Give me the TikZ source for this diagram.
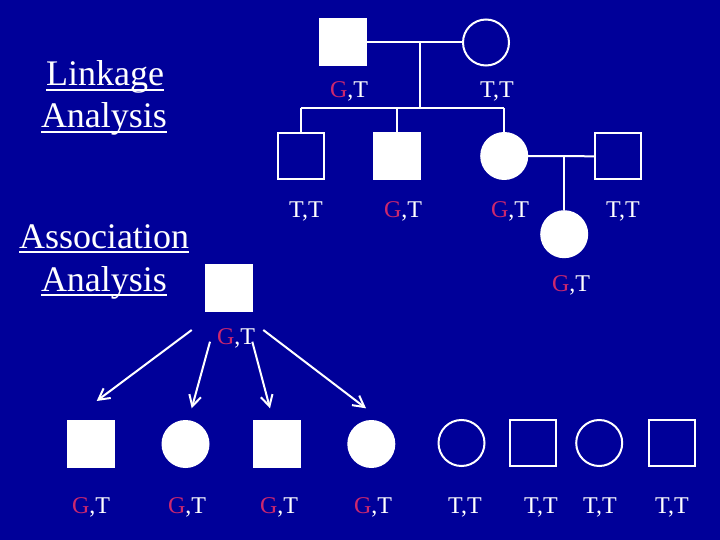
\documentclass[tikz,border=0pt]{standalone}
\usepackage{fontspec}
\setmainfont{Liberation Serif}
\usetikzlibrary{arrows.meta}
\definecolor{bgblue}{RGB}{0,0,153}
\definecolor{gred}{RGB}{204,40,110}
\newcommand{\GT}{{\color{gred}G},T}
\begin{document}
\begin{tikzpicture}[x=1pt,y=-1pt,
  every node/.style={inner sep=0pt,outer sep=0pt},
  lw/.style={line width=2pt,white},
  sqfill/.style={rectangle,fill=white,minimum size=48pt},
  sqopen/.style={rectangle,draw=white,line width=2pt,minimum size=46pt},
  cifill/.style={circle,fill=white,minimum size=48pt},
  ciopen/.style={circle,draw=white,line width=2pt,minimum size=46pt},
  gt/.style={anchor=base,text=white,font=\fontsize{24}{28}\selectfont},
  head/.style={anchor=base,text=white,font=\fontsize{36}{43}\selectfont},
  uline/.style={line width=2.5pt,white},
  arr/.style={line width=2pt,white,-{Straight Barb[length=11pt,width=12pt,line width=2pt]}}
]
\fill[bgblue] (0,0) rectangle (720,540);
\useasboundingbox (0,0) rectangle (720,540);

% headings
\node[head] (h1) at (105,86) {Linkage};
\node[head] (h2) at (104,128) {Analysis};
\node[head] (h3) at (104,248) {Association};
\node[head] (h4) at (104,291) {Analysis};
\foreach \n in {h1,h2,h3,h4}
  \draw[uline] ([yshift=-4pt]\n.base west) -- ([yshift=-4pt]\n.base east);

% pedigree
\node[sqfill] (f1) at (342.5,42.5) {};
\node[ciopen] (m1) at (486,42.5) {};
\node[sqopen] (c1) at (300.5,156.3) {};
\node[sqfill] (c2) at (396.7,156.2) {};
\node[cifill] (c3) at (504.2,156) {};
\node[sqopen] (sp) at (618.3,156.3) {};
\node[cifill] (gc) at (564.2,234.2) {};

\coordinate (mar1) at (420,42.5);
\coordinate (sib) at (420,108);
\draw[lw] (f1.east) -- (m1.west);
\draw[lw] (mar1) -- (sib);
\draw[lw] (c1.north |- sib) -- (c3.north |- sib);
\draw[lw] (c1.north |- sib) -- (c1.north);
\draw[lw] (c2.north |- sib) -- (c2.north);
\draw[lw] (c3.north |- sib) -- (c3.north);
\draw[lw] (c3.east) -- (sp.west);
\draw[lw] (gc.north |- c3.east) -- (gc.north);

\node[gt] (lf1) at (349,98) {\GT};
\node[gt] (lm1) at (497,98) {T,T};
\node[gt] (lc1) at (306,218) {T,T};
\node[gt] (lc2) at (403,218) {\GT};
\node[gt] (lc3) at (510,218) {\GT};
\node[gt] (lsp) at (623,218) {T,T};
\node[gt] (lgc) at (571,291) {\GT};

% association
\node[sqfill] (a0) at (228.7,288.3) {};
\node[gt] (la0) at (236,344) {\GT};

\node[sqfill] (b1) at (90.5,444.2) {};
\node[cifill] (b2) at (185.5,444) {};
\node[sqfill] (b3) at (276.7,444) {};
\node[cifill] (b4) at (371.3,444) {};
\node[ciopen] (b5) at (461.5,443) {};
\node[sqopen] (b6) at (533.3,443) {};
\node[ciopen] (b7) at (599.2,443) {};
\node[sqopen] (b8) at (671.7,443) {};

\node[gt] (lb1) at (91,513) {\GT};
\node[gt] (lb2) at (187,513) {\GT};
\node[gt] (lb3) at (279,513) {\GT};
\node[gt] (lb4) at (373,513) {\GT};
\node[gt] (lb5) at (465,513) {T,T};
\node[gt] (lb6) at (541,513) {T,T};
\node[gt] (lb7) at (600,513) {T,T};
\node[gt] (lb8) at (672,513) {T,T};

\coordinate (s1) at (191.7,330);
\coordinate (s2) at (210,341.7);
\coordinate (s3) at (252.3,341.7);
\coordinate (s4) at (263.3,330);
\coordinate (t1) at (96.7,401);
\coordinate (t2) at (191.7,408.3);
\coordinate (t3) at (270,408.3);
\coordinate (t4) at (366,408.3);
\draw[arr] (s1) -- (t1);
\draw[arr] (s2) -- (t2);
\draw[arr] (s3) -- (t3);
\draw[arr] (s4) -- (t4);
\end{tikzpicture}
\end{document}
